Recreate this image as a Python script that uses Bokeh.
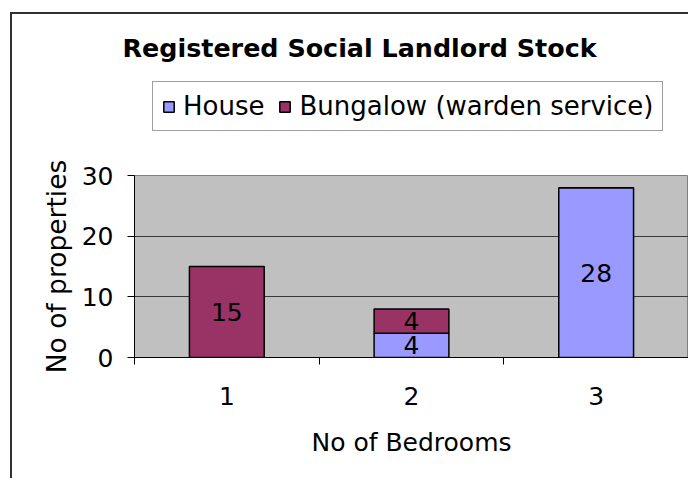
from bokeh.plotting import figure
from bokeh.layouts import column
from bokeh.models import FixedTicker, Legend, LegendItem, Label, ColumnDataSource, Range1d
from bokeh.core.properties import value
from bokeh.embed import file_html
from bokeh.resources import INLINE

# ---- data ----
bedrooms = [1, 2, 3]
house = [0, 4, 28]
bungalow = [15, 4, 0]
series_names = ["House", "Bungalow (warden service)"]
series_colors = ["#9999FF", "#993366"]
y_ticks = [0, 10, 20, 30]
title_text = "Registered Social Landlord Stock"
x_label = "No of Bedrooms"
y_label = "No of properties"

FONT = "DejaVu Sans"
FS = "25px"
W = 676
TOP_H = 146
BOT_H = 318

src = ColumnDataSource(dict(x=bedrooms, house=house, bungalow=bungalow))

# ---- header figure: title + legend ----
tf = figure(width=W, height=TOP_H, x_range=Range1d(0, W), y_range=Range1d(0, TOP_H),
            x_axis_type=None, y_axis_type=None, output_backend="svg", toolbar_location=None,
            min_border_left=0, min_border_right=0, min_border_top=0, min_border_bottom=0)
tf.frame_align = False
tf.outline_line_color = None
tf.background_fill_color = "white"
tf.border_fill_color = "white"

# legend keys: the same series, drawn small on extra ranges so they sit hidden behind the legend box
tf.extra_x_ranges = {"key": Range1d(-1, 5)}
tf.extra_y_ranges = {"key": Range1d(-39, 107)}
key = tf.vbar_stack(["house", "bungalow"], x="x", width=0.405, fill_color=series_colors,
                    line_color="black", line_width=1.5, source=src,
                    x_range_name="key", y_range_name="key")
legend = Legend(items=[LegendItem(label=n, renderers=[r]) for n, r in zip(series_names, key)],
                orientation="horizontal", location=(140, 29), margin=0, padding=9,
                spacing=14, glyph_width=13, glyph_height=13, label_standoff=8,
                label_text_font=FONT, label_text_font_size="26px", label_text_color="black",
                border_line_color="#404040", border_line_width=1, background_fill_color="white",
                background_fill_alpha=1)
tf.add_layout(legend, "center")
tf.add_layout(Label(x=110, y=113, text=title_text, text_align="left", text_baseline="alphabetic",
                    text_font=FONT, text_font_size="25.4px", text_font_style="bold",
                    text_color="black"))

# ---- chart ----
p = figure(width=W, height=BOT_H, x_range=(0.5, 3.5), y_range=(y_ticks[0], y_ticks[-1]),
           output_backend="svg", toolbar_location=None,
           min_border_left=122, min_border_right=0, min_border_top=15, min_border_bottom=121)
p.frame_align = False
p.background_fill_color = "#C0C0C0"
p.border_fill_color = "white"
p.outline_line_color = "#808080"
p.outline_line_width = 1

rs = p.vbar_stack(["house", "bungalow"], x="x", width=0.405, fill_color=series_colors,
                  line_color="black", line_width=1.5, source=src)

lx, ly, lt = [], [], []
for x, h, b in zip(bedrooms, house, bungalow):
    if h:
        lx.append(x); ly.append(h / 2); lt.append(str(h))
    if b:
        lx.append(x); ly.append(h + b / 2); lt.append(str(b))
p.text(x=lx, y=ly, text=lt, text_align="center", text_baseline="middle",
       text_font=value(FONT), text_font_size=FS, text_color="black")

xa = p.xaxis[0]
half = [b - 0.5 for b in bedrooms] + [bedrooms[-1] + 0.5]
xa.ticker = FixedTicker(ticks=bedrooms, minor_ticks=half)
xa.major_tick_out = 0
xa.major_tick_in = 0
xa.minor_tick_out = 7
xa.minor_tick_in = 0
xa.minor_tick_line_color = "black"
xa.axis_line_color = "black"
xa.major_label_standoff = 22
xa.axis_label = x_label
xa.axis_label_standoff = 20

ya = p.yaxis[0]
ya.ticker = FixedTicker(ticks=y_ticks, minor_ticks=[])
ya.major_tick_out = 7
ya.major_tick_in = 0
ya.major_tick_line_color = "black"
ya.axis_line_color = "black"
ya.major_label_standoff = 14
ya.axis_label = y_label
ya.axis_label_standoff = 7

for ax in (xa, ya):
    ax.major_label_text_font = FONT
    ax.major_label_text_font_size = FS
    ax.major_label_text_color = "black"
    ax.axis_label_text_font = FONT
    ax.axis_label_text_font_size = FS
    ax.axis_label_text_font_style = "normal"
    ax.axis_label_text_color = "black"
ya.axis_label_text_font_size = "26.5px"

p.xgrid.visible = False
p.ygrid.ticker = FixedTicker(ticks=y_ticks[1:-1])
p.ygrid.grid_line_color = "#383838"
p.ygrid.grid_line_width = 1

layout = column(tf, p, spacing=0,
                styles={"margin-left": "10px", "margin-top": "12px",
                        "border-left": "2px solid #303030", "border-top": "2px solid #303030"})

open("out.html", "w").write(file_html(layout, INLINE))
